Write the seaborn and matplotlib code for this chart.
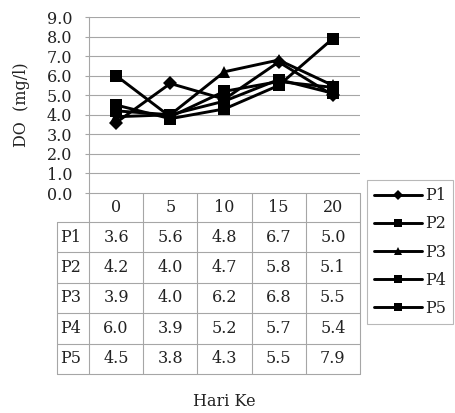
import matplotlib
matplotlib.use("Agg")
import matplotlib.pyplot as plt
from matplotlib.lines import Line2D
import numpy as np
import pandas as pd
import seaborn as sns

# Sampling days and dissolved-oxygen readings per treatment
days = ["0", "5", "10", "15", "20"]
series_names = ["P1", "P2", "P3", "P4", "P5"]
p1 = [3.6, 5.6, 4.8, 6.7, 5.0]
p2 = [4.2, 4.0, 4.7, 5.8, 5.1]
p3 = [3.9, 4.0, 6.2, 6.8, 5.5]
p4 = [6.0, 3.9, 5.2, 5.7, 5.4]
p5 = [4.5, 3.8, 4.3, 5.5, 7.9]
series_values = [p1, p2, p3, p4, p5]
series_markers = ["D", "s", "^", "s", "s"]
y_ticks = [0.0, 1.0, 2.0, 3.0, 4.0, 5.0, 6.0, 7.0, 8.0, 9.0]

sns.set_theme(style="white")
plt.rcParams["font.family"] = ["DejaVu Serif"]
FS = 11.5
GRID = "#a6a6a6"
TXT = "#222222"

W, H = 456, 413
fig = plt.figure(figsize=(W / 100, H / 100), dpi=100)
fig.patch.set_facecolor("white")

# plot area in pixel units
L, R, T, B = 89, 360, 17, 193
ax = fig.add_axes([L / W, 1 - B / H, (R - L) / W, (B - T) / H])

records = []
for name, vals in zip(series_names, series_values):
    for i, v in enumerate(vals):
        records.append({"pos": i, "DO": v, "series": name})
df = pd.DataFrame(records)

marker_map = dict(zip(series_names, series_markers))
sns.lineplot(data=df, x="pos", y="DO", hue="series", style="series",
             markers=marker_map, dashes=False, palette=["black"] * 5,
             linewidth=2.1, markersize=8.5, markeredgewidth=0,
             legend=False, ax=ax)
# diamonds and triangles read a little smaller than squares
for line, m in zip(ax.get_lines(), series_markers):
    if m == "D":
        line.set_markersize(7)
    elif m == "^":
        line.set_markersize(8.5)

ax.set_xlim(-0.5, len(days) - 0.5)
ax.set_ylim(0, 9)
ax.set_yticks(y_ticks)
ax.set_yticklabels([f"{t:.1f}" for t in y_ticks], fontsize=FS)
ax.set_xticks([])
ax.set_xlabel("")
ax.set_ylabel("DO  (mg/l)", fontsize=FS, labelpad=12, color=TXT)
ax.yaxis.grid(True, color=GRID, linewidth=0.8)
ax.set_axisbelow(True)
for side in ["top", "right", "bottom"]:
    ax.spines[side].set_visible(False)
ax.spines["left"].set_color(GRID)
ax.spines["left"].set_linewidth(0.8)
ax.tick_params(axis="y", left=True, length=3, width=0.8, color=GRID,
               pad=9, labelcolor=TXT)

# data table underneath the plot area
ov = fig.add_axes([0, 0, 1, 1], zorder=-1)
ov.set_xlim(0, W)
ov.set_ylim(H, 0)
ov.axis("off")

col_edges = np.linspace(L, R, len(days) + 1)
label_left = 57
row_edges = [B, 222] + list(np.linspace(222, 374, len(series_names) + 1)[1:])
lk = dict(color=GRID, linewidth=0.8)

ov.plot([L, R], [B, B], **lk)
for y in row_edges[1:]:
    ov.plot([label_left, R], [y, y], **lk)
for x in col_edges:
    ov.plot([x, x], [B, row_edges[-1]], **lk)
ov.plot([label_left, label_left], [row_edges[1], row_edges[-1]], **lk)

for j, d in enumerate(days):
    cx = (col_edges[j] + col_edges[j + 1]) / 2
    ov.text(cx, (row_edges[0] + row_edges[1]) / 2, d, ha="center",
            va="center", fontsize=FS, color=TXT)
for i, (name, vals) in enumerate(zip(series_names, series_values)):
    cy = (row_edges[i + 1] + row_edges[i + 2]) / 2
    ov.text(label_left + 3, cy, name, ha="left", va="center",
            fontsize=FS, color=TXT)
    for j, v in enumerate(vals):
        cx = (col_edges[j] + col_edges[j + 1]) / 2
        ov.text(cx, cy, f"{v:.1f}", ha="center", va="center",
                fontsize=FS, color=TXT)

ov.text((L + R) / 2, 402, "Hari Ke", ha="center", va="center",
        fontsize=FS, color=TXT)

legend_sizes = {"D": 5, "s": 5.5, "^": 6}
handles = [Line2D([0], [0], color="black", linewidth=2.1, marker=m,
                  markersize=legend_sizes[m], markeredgewidth=0)
           for m in series_markers]
leg = fig.legend(handles, series_names, loc="upper left",
                 bbox_to_anchor=(367 / W, 1 - 180 / H), frameon=True,
                 fancybox=False, edgecolor=GRID, fontsize=FS,
                 handlelength=3.0, handletextpad=0.2, labelspacing=0.7,
                 borderpad=0.45, borderaxespad=0)
leg.get_frame().set_linewidth(0.8)
for t in leg.get_texts():
    t.set_color(TXT)

fig.savefig("out.png", dpi=100, facecolor="white")
